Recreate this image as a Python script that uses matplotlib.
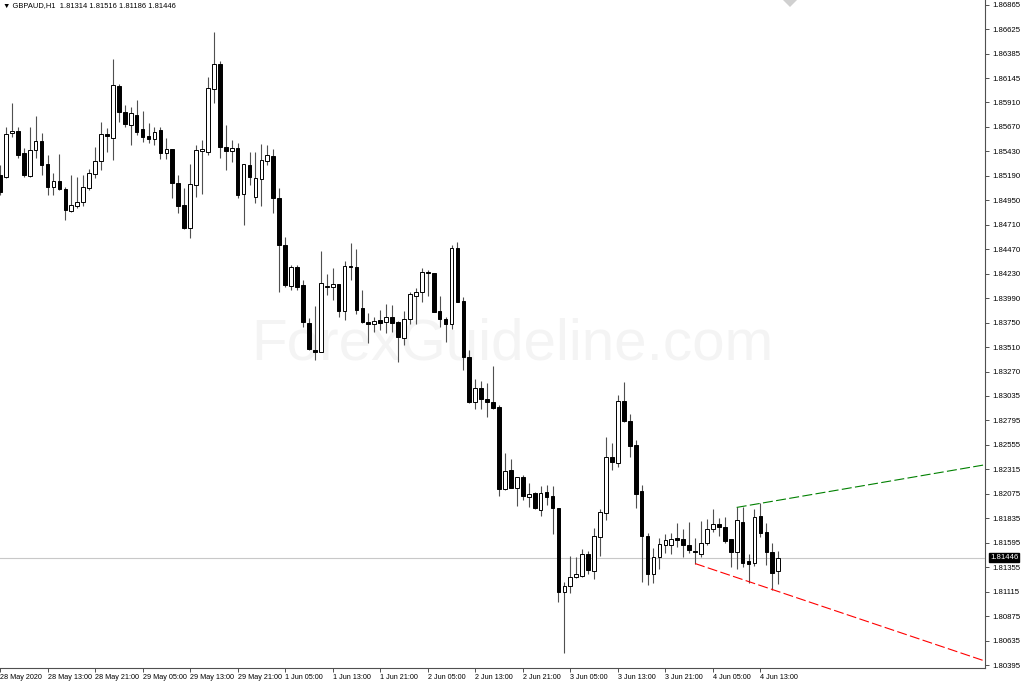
import matplotlib
matplotlib.use("Agg")
import matplotlib.pyplot as plt
from matplotlib.patches import Polygon

plt.rcParams['font.family'] = ['Liberation Sans', 'DejaVu Sans']

symbol = "GBPAUD,H1"

opens = [
1.8520, 1.8518, 1.8561, 1.8563, 1.8541, 1.8519, 1.8544, 1.8553, 1.8531, 1.8508,
1.8514, 1.8506, 1.8485, 1.8489, 1.8493, 1.8507, 1.8521, 1.8534, 1.8560, 1.8556,
1.8607, 1.8582, 1.8569, 1.8579, 1.8565, 1.8558, 1.8555, 1.8564, 1.8541, 1.8545,
1.8512, 1.8490, 1.8468, 1.8510, 1.8543, 1.8542, 1.8604, 1.8629, 1.8547, 1.8543,
1.8546, 1.8501, 1.8530, 1.8498, 1.8516, 1.8534, 1.8538, 1.8497, 1.8451, 1.8411,
1.8430, 1.8412, 1.8375, 1.8348, 1.8346, 1.8410, 1.8410, 1.8413, 1.8387, 1.8431,
1.8430, 1.8389, 1.8376, 1.8374, 1.8378, 1.8376, 1.8381, 1.8376, 1.8360, 1.8379,
1.8401, 1.8405, 1.8425, 1.8424, 1.8387, 1.8379, 1.8374, 1.8448, 1.8396, 1.8341,
1.8297, 1.8311, 1.8300, 1.8297, 1.8292, 1.8212, 1.8231, 1.8213, 1.8224, 1.8204,
1.8208, 1.8191, 1.8209, 1.8205, 1.8193, 1.8111, 1.8117, 1.8126, 1.8127, 1.8148,
1.8132, 1.8165, 1.8189, 1.8243, 1.8238, 1.8298, 1.8279, 1.8255, 1.8210, 1.8166,
1.8129, 1.8145, 1.8157, 1.8157, 1.8164, 1.8163, 1.8157, 1.8151, 1.8148, 1.8159,
1.8173, 1.8178, 1.8175, 1.8163, 1.8150, 1.8180, 1.8141, 1.8140, 1.8186, 1.8170,
1.8150, 1.81314]

highs = [
1.8530, 1.8567, 1.8590, 1.8567, 1.8546, 1.8567, 1.8578, 1.8561, 1.8539, 1.8522,
1.8540, 1.8508, 1.8520, 1.8518, 1.8520, 1.8526, 1.8547, 1.8572, 1.8566, 1.8634,
1.8609, 1.8588, 1.8587, 1.8593, 1.8583, 1.8571, 1.8567, 1.8567, 1.8556, 1.8545,
1.8520, 1.8507, 1.8531, 1.8549, 1.8554, 1.8616, 1.8660, 1.8632, 1.8569, 1.8554,
1.8551, 1.8531, 1.8542, 1.8542, 1.8550, 1.8549, 1.8545, 1.8507, 1.8459, 1.8432,
1.8432, 1.8417, 1.8380, 1.8391, 1.8445, 1.8423, 1.8429, 1.8413, 1.8436, 1.8453,
1.8447, 1.8407, 1.8385, 1.8381, 1.8388, 1.8393, 1.8392, 1.8377, 1.8387, 1.8405,
1.8409, 1.8429, 1.8427, 1.8424, 1.8401, 1.8381, 1.8451, 1.8454, 1.8400, 1.8348,
1.8320, 1.8318, 1.8316, 1.8333, 1.8294, 1.8247, 1.8241, 1.8224, 1.8226, 1.8218,
1.8209, 1.8215, 1.8216, 1.8215, 1.8193, 1.8121, 1.8146, 1.8145, 1.8153, 1.8151,
1.8174, 1.8192, 1.8263, 1.8257, 1.8304, 1.8317, 1.8286, 1.8260, 1.8216, 1.8169,
1.8154, 1.8164, 1.8168, 1.8169, 1.8179, 1.8173, 1.8180, 1.8164, 1.8181, 1.8183,
1.8192, 1.8184, 1.8185, 1.8163, 1.8194, 1.8194, 1.8148, 1.8192, 1.8198, 1.8179,
1.8159, 1.81516]

lows = [
1.8500, 1.8517, 1.8557, 1.8537, 1.8518, 1.8518, 1.8537, 1.8520, 1.8500, 1.8500,
1.8505, 1.8476, 1.8484, 1.8488, 1.8489, 1.8505, 1.8517, 1.8525, 1.8542, 1.8535,
1.8572, 1.8567, 1.8549, 1.8559, 1.8552, 1.8551, 1.8549, 1.8536, 1.8536, 1.8497,
1.8483, 1.8467, 1.8458, 1.8498, 1.8501, 1.8539, 1.8590, 1.8537, 1.8525, 1.8533,
1.8497, 1.8471, 1.8510, 1.8492, 1.8489, 1.8530, 1.8483, 1.8405, 1.8410, 1.8407,
1.8407, 1.8371, 1.8348, 1.8339, 1.8346, 1.8402, 1.8397, 1.8381, 1.8378, 1.8417,
1.8384, 1.8375, 1.8355, 1.8366, 1.8368, 1.8365, 1.8366, 1.8337, 1.8353, 1.8374,
1.8374, 1.8395, 1.8401, 1.8386, 1.8371, 1.8356, 1.8369, 1.8395, 1.8329, 1.8296,
1.8290, 1.8290, 1.8283, 1.8290, 1.8205, 1.8211, 1.8213, 1.8195, 1.8201, 1.8194,
1.8192, 1.8186, 1.8196, 1.8168, 1.8101, 1.8051, 1.8110, 1.8125, 1.8126, 1.8129,
1.8124, 1.8146, 1.8182, 1.8231, 1.8234, 1.8278, 1.8243, 1.8193, 1.8121, 1.8118,
1.8120, 1.8134, 1.8149, 1.8148, 1.8155, 1.8145, 1.8149, 1.8139, 1.8145, 1.8157,
1.8170, 1.8166, 1.8159, 1.8136, 1.8134, 1.8136, 1.8120, 1.8137, 1.8165, 1.8138,
1.8113, 1.81186]

closes = [
1.8503, 1.8560, 1.8563, 1.8539, 1.8520, 1.8544, 1.8553, 1.8530, 1.8508, 1.8514,
1.8506, 1.8486, 1.8490, 1.8493, 1.8508, 1.8522, 1.8534, 1.8560, 1.8558, 1.8608,
1.8582, 1.8570, 1.8581, 1.8562, 1.8557, 1.8555, 1.8562, 1.8541, 1.8545, 1.8512,
1.8489, 1.8468, 1.8511, 1.8544, 1.8545, 1.8605, 1.8629, 1.8547, 1.8543, 1.8546,
1.8500, 1.8531, 1.8518, 1.8517, 1.8535, 1.8539, 1.8497, 1.8451, 1.8412, 1.8430,
1.8410, 1.8376, 1.8349, 1.8346, 1.8414, 1.8411, 1.8413, 1.8387, 1.8431, 1.8430,
1.8388, 1.8376, 1.8374, 1.8377, 1.8375, 1.8381, 1.8375, 1.8361, 1.8379, 1.8403,
1.8405, 1.8425, 1.8424, 1.8386, 1.8379, 1.8374, 1.8448, 1.8395, 1.8341, 1.8297,
1.8311, 1.8300, 1.8297, 1.8291, 1.8212, 1.8230, 1.8213, 1.8224, 1.8205, 1.8207,
1.8193, 1.8208, 1.8204, 1.8193, 1.8111, 1.8117, 1.8126, 1.8129, 1.8148, 1.8133,
1.8166, 1.8190, 1.8243, 1.8239, 1.8298, 1.8279, 1.8254, 1.8207, 1.8166, 1.8129,
1.8145, 1.8158, 1.8162, 1.8163, 1.8162, 1.8157, 1.8152, 1.8150, 1.8159, 1.8173,
1.8178, 1.8175, 1.8161, 1.8150, 1.8182, 1.8140, 1.8139, 1.8185, 1.8169, 1.8150,
1.8130, 1.81446]

# time axis labels (bar index -> label)
xtick_idx = [0, 8, 16, 24, 32, 40, 48, 56, 64, 72, 80, 88, 96, 104, 112, 120, 128]
xtick_labels = ["28 May 2020", "28 May 13:00", "28 May 21:00", "29 May 05:00",
                "29 May 13:00", "29 May 21:00", "1 Jun 05:00", "1 Jun 13:00",
                "1 Jun 21:00", "2 Jun 05:00", "2 Jun 13:00", "2 Jun 21:00",
                "3 Jun 05:00", "3 Jun 13:00", "3 Jun 21:00", "4 Jun 05:00",
                "4 Jun 13:00"]

ytick_vals = [1.86865, 1.86625, 1.86385, 1.86145, 1.85910, 1.85670, 1.85430,
              1.85190, 1.84950, 1.84710, 1.84470, 1.84230, 1.83990, 1.83750,
              1.83510, 1.83270, 1.83035, 1.82795, 1.82555, 1.82315, 1.82075,
              1.81835, 1.81595, 1.81355, 1.81115, 1.80875, 1.80635, 1.80395]

# trend lines (bar index, price)
green_x = [124, 166]
green_y = [1.8194, 1.8236]
red_x = [117, 166]
red_y = [1.8139, 1.8043]

fig = plt.figure(figsize=(10.24, 6.83), dpi=100)
fig.patch.set_facecolor('white')
ax = fig.add_axes([0, 15/683, 985/1024, 668/683])
ax.set_facecolor('white')

ax.text(0.52, 0.485, "ForexGuideline.com", transform=ax.transAxes,
        ha='center', va='center', fontsize=42, color='#f4f4f4', zorder=0)

n = len(opens)
idx = list(range(n))
ax.vlines(idx, lows, highs, color='#505050', linewidth=0.8, zorder=2)
bottoms = [min(o, c) for o, c in zip(opens, closes)]
heights = [max(abs(c - o), 0.00002) for o, c in zip(opens, closes)]
fills = ['white' if c >= o else 'black' for o, c in zip(opens, closes)]
ax.bar(idx, heights, bottom=bottoms, width=0.62, color=fills,
       edgecolor='black', linewidth=0.7, zorder=3)

ax.axhline(closes[-1], color='#c8c8c8', linewidth=0.8, zorder=1)

ax.plot(green_x, green_y, color='#008000', linewidth=0.8,
        dashes=(9, 3), zorder=4)
ax.plot(red_x, red_y, color='#ff0000', linewidth=0.8,
        dashes=(9, 3), zorder=4)

ax.set_xlim(0.27, 165.8)
ax.set_ylim(1.80366, 1.86914)

for s in ['top', 'left']:
    ax.spines[s].set_visible(False)
for s in ['right', 'bottom']:
    ax.spines[s].set_color('#505050')
    ax.spines[s].set_linewidth(0.8)

ax.yaxis.tick_right()
ax.set_yticks(ytick_vals)
ax.set_yticklabels([f"{v:.5f}" for v in ytick_vals])
ax.tick_params(axis='y', direction='out', length=3, width=0.7, pad=2,
               labelsize=5.6, color='#505050')
ax.set_xticks(xtick_idx)
ax.set_xticklabels(xtick_labels)
ax.tick_params(axis='x', direction='out', length=3, width=0.7, pad=1.5,
               labelsize=5.2, color='#505050')
for lab in ax.get_xticklabels():
    lab.set_horizontalalignment('left')

# current price box
ax.annotate(f"{closes[-1]:.5f}", xy=(1.0, closes[-1]),
            xycoords=('axes fraction', 'data'), xytext=(3.5, 0),
            textcoords='offset points', ha='left', va='center',
            fontsize=5.6, color='white',
            bbox=dict(boxstyle='square,pad=0.15', fc='black', ec='black'),
            annotation_clip=False, zorder=10)

# shift marker at top
ax.add_patch(Polygon([[783/985, 1.0], [790/985, 1 - 7/668], [797/985, 1.0]],
                     closed=True, transform=ax.transAxes, fc='#d0d0d0',
                     ec='none', clip_on=False, zorder=5))

fig.text(3/1024, 1 - 6/683,
         f"\u25BC {symbol}  {opens[-1]:.5f} {highs[-1]:.5f} {lows[-1]:.5f} {closes[-1]:.5f}",
         ha='left', va='center', fontsize=5.4, color='black',
         family=['Liberation Sans', 'DejaVu Sans'])

fig.savefig('out.png', dpi=100)
